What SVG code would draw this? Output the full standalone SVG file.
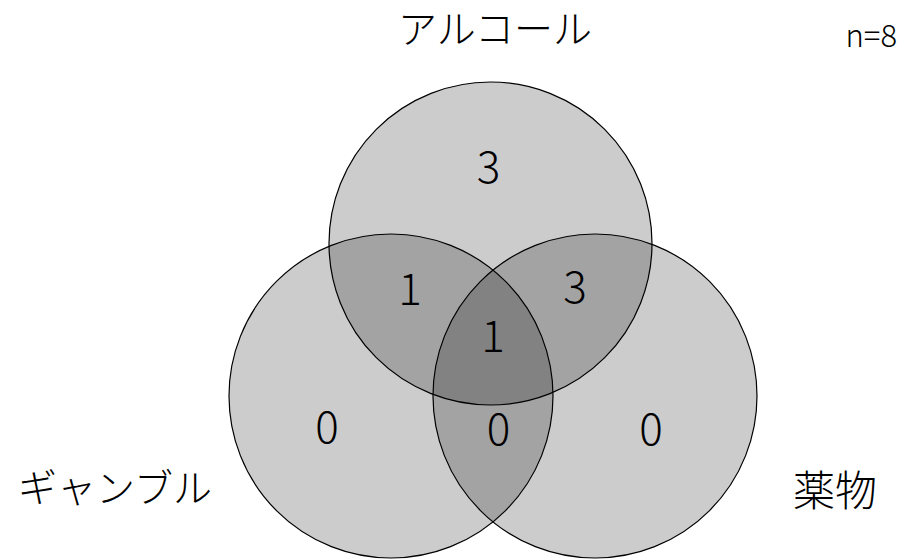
<svg xmlns="http://www.w3.org/2000/svg" width="903" height="560" viewBox="0 0 903 560">
<style>
.c{fill:#000;fill-opacity:0.2;stroke:#000;stroke-width:1.2}
.t{font-family:"Noto Sans CJK JP","Noto Sans",sans-serif;fill:#000;font-weight:300}
.lab{font-size:39px}
.num{font-size:44px;text-anchor:middle}
</style>
<rect width="903" height="560" fill="#fff"/>
<g id="alcohol">
<circle class="c" cx="490.5" cy="243.5" r="161.5"/>
<text class="t lab" x="495" y="43" text-anchor="middle">アルコール</text>
</g>
<g id="gamble">
<circle class="c" cx="391" cy="396" r="162"/>
<text class="t lab" x="115" y="502" text-anchor="middle">ギャンブル</text>
</g>
<g id="drug">
<circle class="c" cx="595" cy="396" r="162"/>
<text class="t" x="835" y="506" text-anchor="middle" font-size="42">薬物</text>
</g>
<g id="counts">
<text class="t num" x="488.5" y="183">3</text>
<text class="t num" x="410" y="305">1</text>
<text class="t num" x="575" y="303">3</text>
<text class="t num" x="493" y="352">1</text>
<text class="t num" x="327" y="443">0</text>
<text class="t num" x="498.5" y="445">0</text>
<text class="t num" x="651" y="445">0</text>
</g>
<g id="total">
<text class="t" x="897" y="47" text-anchor="end" font-size="31">n=8</text>
</g>
<g id="connectors"></g>
</svg>
